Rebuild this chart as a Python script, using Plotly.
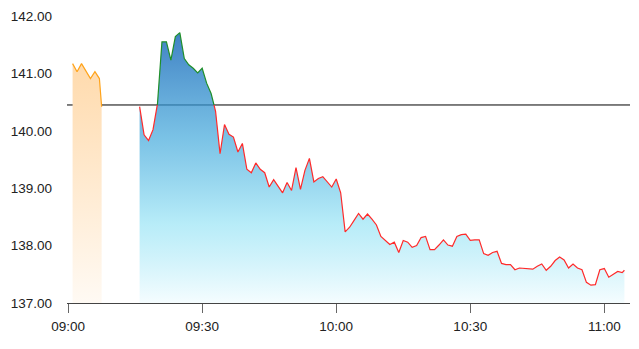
import plotly.graph_objects as go
import pandas as pd

DAY = "2024-01-02 "
BASE = 140.45

pre_times = ["09:01:00", "09:02:00", "09:03:00", "09:04:00", "09:05:00", "09:06:00", "09:07:00", "09:07:30"]
pre_values = [141.17, 141.03, 141.17, 141.05, 140.91, 141.03, 140.91, 140.42]

main_start = "09:16:00"
main_values = [
    140.42, 139.93, 139.83, 140.02, 140.47, 141.55, 141.55, 141.23, 141.64, 141.71,
    141.26, 141.15, 141.09, 141.01, 141.09, 140.83, 140.65, 140.34, 139.60, 140.11,
    139.94, 139.89, 139.63, 139.78, 139.33, 139.27, 139.44, 139.33, 139.27, 139.02,
    139.15, 139.04, 138.92, 139.10, 138.96, 139.36, 138.98, 139.31, 139.52, 139.11,
    139.17, 139.20, 139.10, 139.02, 139.16, 138.92, 138.24, 138.32, 138.44, 138.56,
    138.46, 138.55, 138.46, 138.36, 138.16, 138.09, 138.02, 138.06, 137.88, 138.09,
    138.06, 137.97, 138.00, 138.14, 138.16, 137.93, 137.93, 138.01, 138.10, 138.01,
    137.99, 138.16, 138.19, 138.20, 138.09, 138.10, 138.10, 137.86, 137.83, 137.88,
    137.90, 137.69, 137.67, 137.67, 137.58, 137.61, 137.60, 137.59, 137.59, 137.64,
    137.68, 137.57, 137.64, 137.74, 137.80, 137.75, 137.61, 137.68, 137.61, 137.58,
    137.36, 137.31, 137.32, 137.58, 137.60, 137.45, 137.50, 137.55, 137.53,
]
main_last_time = "11:04:30"
main_last_value = 137.57

x_range = ["08:59:45", "11:05:45"]
x_ticks = ["09:00", "09:30", "10:00", "10:30", "11:00"]
y_ticks = [137, 138, 139, 140, 141, 142]


def ts(t):
    if t.count(":") == 1:
        t = t + ":00"
    return pd.Timestamp(DAY + t)


pre_x = [ts(t) for t in pre_times]
main_x = list(pd.date_range(ts(main_start), periods=len(main_values), freq="min"))
main_x.append(ts(main_last_time))
main_y = main_values + [main_last_value]

# split line into above/below baseline segments, inserting crossing points
dx, dy = [], []
for i in range(len(main_y)):
    if i > 0:
        y0, y1 = main_y[i - 1], main_y[i]
        if (y0 - BASE) * (y1 - BASE) < 0:
            f = (BASE - y0) / (y1 - y0)
            dx.append(main_x[i - 1] + (main_x[i] - main_x[i - 1]) * f)
            dy.append(BASE)
    dx.append(main_x[i])
    dy.append(main_y[i])
red_y = [v if v <= BASE + 1e-9 else None for v in dy]
green_y = [v if v >= BASE - 1e-9 else None for v in dy]

fig = go.Figure()
# previous-close baseline (drawn first so the pre-market fill covers it)
fig.add_trace(go.Scatter(
    x=[ts(x_range[0]), ts(x_range[1])], y=[BASE, BASE], mode="lines",
    line=dict(color="black", width=1), hoverinfo="skip", showlegend=False))
fig.add_trace(go.Scatter(
    x=main_x, y=main_y, mode="lines", fill="tozeroy",
    line=dict(width=0, color="rgba(0,0,0,0)"),
    fillgradient=dict(type="vertical", start=137, stop=max(main_y),
                      colorscale=[[0, "rgba(246,253,255,0.85)"], [0.3, "rgba(160,230,246,0.75)"],
                                  [0.62, "rgba(70,170,220,0.72)"], [1, "rgba(10,95,180,0.78)"]]),
    hoverinfo="skip", showlegend=False))
fig.add_trace(go.Scatter(
    x=pre_x, y=pre_values, mode="lines", fill="tozeroy",
    line=dict(color="#ffa31a", width=1.2),
    fillgradient=dict(type="vertical", start=137, stop=max(pre_values),
                      colorscale=[[0, "rgb(255,250,244)"], [1, "rgb(255,218,172)"]]),
    hoverinfo="skip", showlegend=False))
fig.add_trace(go.Scatter(x=dx, y=red_y, mode="lines", connectgaps=False,
                         line=dict(color="#ff2a2a", width=1.2), showlegend=False))
fig.add_trace(go.Scatter(x=dx, y=green_y, mode="lines", connectgaps=False,
                         line=dict(color="#1f8f2a", width=1.2), showlegend=False))

fig.update_layout(
    width=639, height=349,
    margin=dict(l=67, r=9, t=14, b=46),
    paper_bgcolor="white", plot_bgcolor="white",
    font=dict(family="Liberation Sans, Arial, sans-serif", size=13.5, color="#222"),
    showlegend=False,
)
fig.update_xaxes(
    range=[ts(x_range[0]), ts(x_range[1])],
    tickvals=[ts(t) for t in x_ticks], ticktext=x_ticks,
    showgrid=False, zeroline=False, showline=True, linecolor="#444", linewidth=1,
    ticks="outside", ticklen=9, tickcolor="#666", tickwidth=1, ticklabelstandoff=2,
)
fig.update_yaxes(
    range=[137, 142], tickvals=y_ticks, ticktext=[f"{v:.2f}" for v in y_ticks],
    showgrid=False, zeroline=False, showline=False, ticks="", ticklabelstandoff=14,
)
fig.write_html("out.html")
